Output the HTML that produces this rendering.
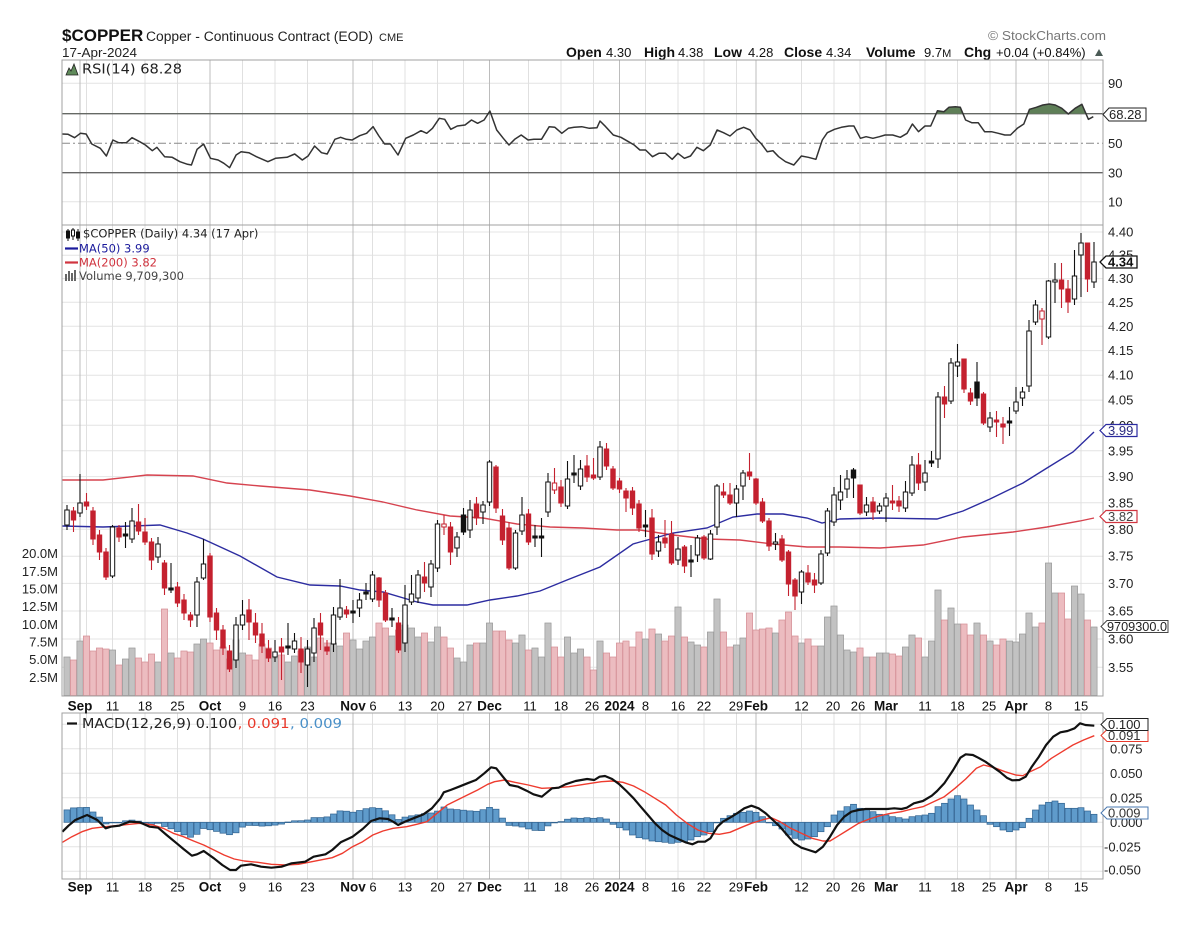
<!DOCTYPE html>
<html><head><meta charset="utf-8"><title>$COPPER</title>
<style>
html,body{margin:0;padding:0;background:#fff;width:1196px;height:934px;overflow:hidden}
svg{display:block}
.t{font-family:"Liberation Sans",Arial,sans-serif}
.d{font-family:"DejaVu Sans",Verdana,sans-serif}
</style></head><body>
<svg id="c" xmlns="http://www.w3.org/2000/svg" width="1196" height="934" viewBox="0 0 1196 934">
<rect width="1196" height="934" fill="#fff"/>
<defs>
<clipPath id="cpR"><rect x="62" y="60" width="1041" height="53.7"/></clipPath>
<clipPath id="cpM"><rect x="62" y="225" width="1041" height="471"/></clipPath>
<clipPath id="cpD"><rect x="62" y="713" width="1041" height="166"/></clipPath>
</defs>

<!-- header -->
<text class="t" x="62" y="41" font-size="17" font-weight="bold" fill="#111">$COPPER</text>
<text class="t" x="146" y="41" font-size="13.5" fill="#222" textLength="227" lengthAdjust="spacingAndGlyphs">Copper - Continuous Contract (EOD)</text>
<text class="t" x="379" y="41" font-size="11" fill="#222">CME</text>
<text class="t" x="62" y="57" font-size="13" fill="#222" textLength="75" lengthAdjust="spacingAndGlyphs">17-Apr-2024</text>
<text class="t" x="988" y="40" font-size="13" fill="#777" textLength="118" lengthAdjust="spacingAndGlyphs">© StockCharts.com</text>
<g class="t" fill="#111">
<text x="566" y="57" font-size="14" font-weight="bold">Open</text><text x="606" y="57" font-size="13">4.30</text>
<text x="644" y="57" font-size="14" font-weight="bold">High</text><text x="678" y="57" font-size="13">4.38</text>
<text x="714" y="57" font-size="14" font-weight="bold">Low</text><text x="748" y="57" font-size="13">4.28</text>
<text x="784" y="57" font-size="14" font-weight="bold">Close</text><text x="826" y="57" font-size="13">4.34</text>
<text x="866" y="57" font-size="14" font-weight="bold">Volume</text><text x="924" y="57" font-size="13">9.7<tspan font-size="11">M</tspan></text>
<text x="964" y="57" font-size="14" font-weight="bold">Chg</text><text x="996" y="57" font-size="13">+0.04 (+0.84%)</text>
</g>
<polygon points="1095,56 1103,56 1099,49" fill="#4a5a55"/>

<!-- static horizontal grid -->
<g stroke="#e4e4e4" stroke-width="1">
<line x1="62" x2="1103" y1="83.3" y2="83.3"/><line x1="62" x2="1103" y1="201.7" y2="201.7"/>
<line x1="62" x2="1103" y1="232" y2="232"/><line x1="62" x2="1103" y1="255.2" y2="255.2"/>
<line x1="62" x2="1103" y1="278.6" y2="278.6"/><line x1="62" x2="1103" y1="302.3" y2="302.3"/>
<line x1="62" x2="1103" y1="326.3" y2="326.3"/><line x1="62" x2="1103" y1="350.6" y2="350.6"/>
<line x1="62" x2="1103" y1="375.2" y2="375.2"/><line x1="62" x2="1103" y1="400.1" y2="400.1"/>
<line x1="62" x2="1103" y1="425.3" y2="425.3"/><line x1="62" x2="1103" y1="450.8" y2="450.8"/>
<line x1="62" x2="1103" y1="476.6" y2="476.6"/><line x1="62" x2="1103" y1="502.8" y2="502.8"/>
<line x1="62" x2="1103" y1="529.3" y2="529.3"/><line x1="62" x2="1103" y1="556.2" y2="556.2"/>
<line x1="62" x2="1103" y1="583.4" y2="583.4"/><line x1="62" x2="1103" y1="611" y2="611"/>
<line x1="62" x2="1103" y1="639" y2="639"/><line x1="62" x2="1103" y1="667.3" y2="667.3"/>
<line x1="62" x2="1103" y1="724.3" y2="724.3"/><line x1="62" x2="1103" y1="748.8" y2="748.8"/>
<line x1="62" x2="1103" y1="773.3" y2="773.3"/><line x1="62" x2="1103" y1="797.8" y2="797.8"/>
<line x1="62" x2="1103" y1="822.3" y2="822.3"/><line x1="62" x2="1103" y1="846.8" y2="846.8"/>
<line x1="62" x2="1103" y1="871.3" y2="871.3"/>
</g>
<g id="gGrid"></g>

<!-- RSI reference lines -->
<line x1="62" x2="1103" y1="113.7" y2="113.7" stroke="#666" stroke-width="1.3"/>
<line x1="62" x2="1103" y1="172.7" y2="172.7" stroke="#666" stroke-width="1.3"/>
<line x1="62" x2="1103" y1="143.3" y2="143.3" stroke="#888" stroke-width="1" stroke-dasharray="8,3,2,3"/>
<g id="gRsi"></g>

<g id="gVol" clip-path="url(#cpM)"></g>
<g id="gMA" clip-path="url(#cpM)"></g>
<g id="gCan" clip-path="url(#cpM)"></g>
<g id="gMacd" clip-path="url(#cpD)"></g>

<!-- frames -->
<g fill="none" stroke="#a0a0a0" stroke-width="1">
<rect x="62" y="60" width="1041" height="165"/>
<rect x="62" y="225" width="1041" height="471"/>
<rect x="62" y="713" width="1041" height="166"/>
</g>

<!-- legends -->
<path d="M66,75 L69,68 L71,71 L74,64 L78,75 Z" fill="#5f8a5a" stroke="#222" stroke-width="0.8"/>
<text class="d" x="82" y="73.5" font-size="13" fill="#222" textLength="100" lengthAdjust="spacingAndGlyphs">RSI(14) 68.28</text>

<g stroke="#111" stroke-width="1">
<line x1="68" x2="68" y1="229" y2="241"/><rect x="66.5" y="231" width="3" height="7" fill="#111"/>
<line x1="73" x2="73" y1="228" y2="240"/><rect x="71.5" y="230" width="3" height="6" fill="#fff"/>
<line x1="78" x2="78" y1="229" y2="241"/><rect x="76.5" y="232" width="3" height="6" fill="#111"/>
</g>
<text class="d" x="83" y="237.5" font-size="11.5" fill="#222">$COPPER (Daily) 4.34 (17 Apr)</text>
<line x1="65" x2="78" y1="248.5" y2="248.5" stroke="#1a1a9c" stroke-width="2.2"/>
<text class="d" x="79" y="252.5" font-size="11.5" fill="#1a1a9c">MA(50) 3.99</text>
<line x1="65" x2="78" y1="262.5" y2="262.5" stroke="#d0343f" stroke-width="2.2"/>
<text class="d" x="79" y="266.5" font-size="11.5" fill="#d0343f">MA(200) 3.82</text>
<g fill="#666"><rect x="65" y="274" width="2" height="7"/><rect x="68" y="271" width="2" height="10"/><rect x="71" y="273" width="2" height="8"/><rect x="74" y="270" width="2" height="11"/></g>
<text class="d" x="79" y="280" font-size="11.5" fill="#444">Volume 9,709,300</text>

<line x1="67" x2="77" y1="723.5" y2="723.5" stroke="#111" stroke-width="2.2"/>
<text class="d" x="82" y="728" font-size="13" fill="#222" textLength="155" lengthAdjust="spacingAndGlyphs">MACD(12,26,9) 0.100</text>
<text class="d" x="237.6" y="728" font-size="13" fill="#e8392b" textLength="52" lengthAdjust="spacingAndGlyphs">, 0.091</text>
<text class="d" x="290" y="728" font-size="13" fill="#4a90c8" textLength="52" lengthAdjust="spacingAndGlyphs">, 0.009</text>

<!-- right axis: RSI -->
<g class="t" font-size="13" fill="#222">
<text x="1108" y="88">90</text><text x="1108" y="148">50</text><text x="1108" y="177.5">30</text><text x="1108" y="206.5">10</text>
</g>
<!-- right axis: price -->
<g class="t" font-size="13" fill="#222">
<text x="1108" y="236.5">4.40</text><text x="1108" y="259.7">4.35</text><text x="1108" y="283.1">4.30</text>
<text x="1108" y="306.8">4.25</text><text x="1108" y="330.8">4.20</text><text x="1108" y="355.1">4.15</text>
<text x="1108" y="379.7">4.10</text><text x="1108" y="404.6">4.05</text><text x="1108" y="429.8">4.00</text>
<text x="1108" y="455.3">3.95</text><text x="1108" y="481.1">3.90</text><text x="1108" y="507.3">3.85</text>
<text x="1108" y="533.8">3.80</text><text x="1108" y="560.7">3.75</text><text x="1108" y="587.9">3.70</text>
<text x="1108" y="615.5">3.65</text><text x="1108" y="643.5">3.60</text><text x="1108" y="671.8">3.55</text>
</g>
<!-- left axis: volume -->
<g class="t" font-size="13" fill="#222" text-anchor="end">
<text x="58" y="558">20.0M</text><text x="58" y="575.8">17.5M</text><text x="58" y="593.5">15.0M</text>
<text x="58" y="611.1">12.5M</text><text x="58" y="628.8">10.0M</text><text x="58" y="646.5">7.5M</text>
<text x="58" y="664.2">5.0M</text><text x="58" y="681.8">2.5M</text>
</g>
<!-- right axis: MACD -->
<g class="t" font-size="13" fill="#222">
<text x="1110" y="728.8">0.100</text><text x="1110" y="753.3">0.075</text><text x="1110" y="777.8">0.050</text>
<text x="1110" y="802.3">0.025</text><text x="1110" y="826.8">0.000</text><text x="1104" y="851.3">-0.025</text>
<text x="1104" y="874.5">-0.050</text>
</g>

<!-- date axes -->
<g class="t" fill="#111" text-anchor="middle">
<g font-size="13.5" font-weight="bold">
<text x="80" y="710.5">Sep</text><text x="210" y="710.5">Oct</text><text x="353" y="710.5">Nov</text><text x="489.5" y="710.5">Dec</text>
<text x="619.5" y="710.5">2024</text><text x="756" y="710.5">Feb</text><text x="886" y="710.5">Mar</text><text x="1016" y="710.5">Apr</text>
<text x="80" y="891.5">Sep</text><text x="210" y="891.5">Oct</text><text x="353" y="891.5">Nov</text><text x="489.5" y="891.5">Dec</text>
<text x="619.5" y="891.5">2024</text><text x="756" y="891.5">Feb</text><text x="886" y="891.5">Mar</text><text x="1016" y="891.5">Apr</text>
</g>
<g font-size="13">
<text x="112.5" y="710.5">11</text><text x="145" y="710.5">18</text><text x="177.5" y="710.5">25</text>
<text x="242.5" y="710.5">9</text><text x="275" y="710.5">16</text><text x="307.5" y="710.5">23</text>
<text x="373" y="710.5">6</text><text x="405" y="710.5">13</text><text x="437.5" y="710.5">20</text><text x="465" y="710.5">27</text>
<text x="530" y="710.5">11</text><text x="561" y="710.5">18</text><text x="592" y="710.5">26</text>
<text x="645.5" y="710.5">8</text><text x="678" y="710.5">16</text><text x="704" y="710.5">22</text><text x="736" y="710.5">29</text>
<text x="801.5" y="710.5">12</text><text x="833" y="710.5">20</text><text x="858" y="710.5">26</text>
<text x="925" y="710.5">11</text><text x="957.5" y="710.5">18</text><text x="989" y="710.5">25</text>
<text x="1048.5" y="710.5">8</text><text x="1081" y="710.5">15</text>
<text x="112.5" y="891.5">11</text><text x="145" y="891.5">18</text><text x="177.5" y="891.5">25</text>
<text x="242.5" y="891.5">9</text><text x="275" y="891.5">16</text><text x="307.5" y="891.5">23</text>
<text x="373" y="891.5">6</text><text x="405" y="891.5">13</text><text x="437.5" y="891.5">20</text><text x="465" y="891.5">27</text>
<text x="530" y="891.5">11</text><text x="561" y="891.5">18</text><text x="592" y="891.5">26</text>
<text x="645.5" y="891.5">8</text><text x="678" y="891.5">16</text><text x="704" y="891.5">22</text><text x="736" y="891.5">29</text>
<text x="801.5" y="891.5">12</text><text x="833" y="891.5">20</text><text x="858" y="891.5">26</text>
<text x="925" y="891.5">11</text><text x="957.5" y="891.5">18</text><text x="989" y="891.5">25</text>
<text x="1048.5" y="891.5">8</text><text x="1081" y="891.5">15</text>
</g>
</g>

<!-- value tags -->
<g class="t" font-size="13">
<path d="M1103,114.5 L1109,108 L1146,108 L1146,121 L1109,121 Z" fill="#fff" stroke="#222"/>
<text x="1109" y="119.2" fill="#222">68.28</text>
<path d="M1100,262 L1106,256 L1137,256 L1137,268 L1106,268 Z" fill="#fff" stroke="#111" stroke-width="1.3"/>
<text x="1108" y="266.6" fill="#111" font-weight="bold">4.34</text>
<path d="M1100,430.5 L1106,424.5 L1137,424.5 L1137,436.5 L1106,436.5 Z" fill="#fff" stroke="#2a2aa0" stroke-width="1.2"/>
<text x="1108" y="435.2" fill="#2a2a80">3.99</text>
<path d="M1100,516.5 L1106,510.5 L1137,510.5 L1137,522.5 L1106,522.5 Z" fill="#fff" stroke="#d0343f" stroke-width="1.2"/>
<text x="1108" y="521.2" fill="#444">3.82</text>
<path d="M1101,626.5 L1107,620.5 L1168,620.5 L1168,632.5 L1107,632.5 Z" fill="#fff" stroke="#444" stroke-width="1"/>
<text x="1107" y="631.2" fill="#222" textLength="60" lengthAdjust="spacingAndGlyphs">9709300.0</text>
<path d="M1101,735.5 L1107,729.5 L1148,729.5 L1148,741.5 L1107,741.5 Z" fill="#fff" stroke="#e8392b" stroke-width="1"/>
<text x="1108" y="740.2" fill="#333">0.091</text>
<path d="M1101,724.5 L1107,718.5 L1148,718.5 L1148,730.5 L1107,730.5 Z" fill="#fff" stroke="#222" stroke-width="1"/>
<text x="1108" y="729.2" fill="#222">0.100</text>
<path d="M1101,813 L1107,807 L1148,807 L1148,819 L1107,819 Z" fill="#fff" stroke="#4a78b0" stroke-width="1"/>
<text x="1108" y="817.7" fill="#333">0.009</text>
</g>
</svg>
<script>
(function(){
var NS='http://www.w3.org/2000/svg';
function E(tag,a,p){var e=document.createElementNS(NS,tag);for(var k in a)e.setAttribute(k,a[k]);p.appendChild(e);return e;}
function G(id){return document.getElementById(id);}
function X(i){return 67+6.5*i;}
function pts(a){return a.map(function(p){return p[0].toFixed(1)+','+p[1].toFixed(1);}).join(' ');}
function interp(a,x){if(x<=a[0][0])return a[0][1];for(var i=1;i<a.length;i++){if(x<=a[i][0]){var p=a[i-1],q=a[i];return p[1]+(q[1]-p[1])*(x-p[0])/(q[0]-p[0]);}}return a[a.length-1][1];}

/* vertical grid */
var gg=G('gGrid');
var weeks=[3,7,12,17,27,32,37,47,52,57,61,71,76,81,89,94,98,103,113,118,122,132,137,142,151,156];
var months=[2,22,44,65,85,106,126,146];
function vline(i,col){var x=X(i);E('line',{x1:x,x2:x,y1:60,y2:696,stroke:col,'stroke-width':1},gg);E('line',{x1:x,x2:x,y1:713,y2:879,stroke:col,'stroke-width':1},gg);}
weeks.forEach(function(i){vline(i,'#e0e0e0');});
months.forEach(function(i){vline(i,'#bcbcbc');});

/* RSI */
var r1=[[162,342],[178,343],[195,353],[210,340],[225,342],[240,372],[262,385],[278,408],[295,360],[310,368],[330,368],[345,353],[365,365],[380,375],[398,392],[410,382],[430,410],[450,412],[470,425],[490,433],[500,435],[515,388],[532,372],[550,415],[570,420],[585,430],[600,443],[617,405],[630,395],[650,398],[670,410],[700,425],[720,415],[750,412],[770,402],[790,420],[805,408],[822,378],[840,398],[855,402],[875,358],[890,352],[905,358],[920,360],[940,347],[958,340],[975,320],[990,348],[1005,372],[1020,372],[1040,405],[1060,355],[1080,345],[1100,332],[1115,340],[1130,325],[1148,295],[1162,298],[1178,328],[1195,318],[1215,315],[1232,300],[1248,310],[1265,300],[1280,273],[1298,330],[1315,355],[1330,375],[1345,358],[1362,345],[1380,360],[1395,358],[1415,358],[1435,320],[1450,322],[1468,340],[1485,325],[1500,322],[1520,320],[1540,325],[1560,323]];
var r2=[[0,303],[15,320],[35,345],[55,352],[75,365],[90,375],[105,390],[120,390],[138,410],[155,400],[172,400],[190,418],[205,400],[222,415],[238,408],[255,382],[272,392],[290,375],[308,330],[325,338],[342,348],[360,330],[378,322],[395,330],[410,355],[425,372],[440,395],[455,392],[470,410],[488,425],[510,435],[530,408],[548,412],[568,418],[585,360],[598,338],[617,328],[635,322],[655,318],[668,318],[685,355],[700,350],[718,355],[735,350],[750,345],[770,345],[790,352],[808,340],[822,312],[838,335],[855,318],[870,318],[888,272],[905,275],[918,262],[935,260],[948,262],[962,300],[978,308],[995,308],[1012,335],[1030,335],[1048,340],[1065,345],[1080,345],[1098,325],[1115,312],[1130,268],[1148,262],[1165,255],[1182,252],[1198,255],[1215,265],[1232,282],[1250,265],[1268,253],[1285,298],[1298,290]];
var rsi=[];
r1.forEach(function(p){rsi.push([Math.max(62,p[0]/2.613),20+p[1]/3]);});
r2.forEach(function(p){rsi.push([600+p[0]/2.631,20+p[1]/3]);});
var gr=G('gRsi');
var poly=rsi.slice();poly.push([rsi[rsi.length-1][0],113.7]);poly.push([rsi[0][0],113.7]);
E('polygon',{points:pts(poly),fill:'#5f7f58','clip-path':'url(#cpR)'},gr);
E('polyline',{points:pts(rsi),fill:'none',stroke:'#333','stroke-width':1.5,'stroke-linejoin':'round'},gr);

/* candles */
var C=[
['H',510,525,505,530],['R',511,520,507,532],['H',503,513,474,517],['R',502,506,493,510],['R',511,539,507,545],['R',535,552,530,560],['R',552,577,548,580],['H',527,576,525,578],['R',528,537,525,542],['B',534,536,522,548],
['H',521,539,508,543],['R',522,531,504,535],['R',532,542,518,545],['R',542,560,538,570],['H',544,557,537,563],['R',563,588,560,595],['B',588,590,563,593],['R',587,603,582,607],['R',600,613,594,620],['R',615,620,612,627],
['H',582,615,577,627],['H',564,578,539,580],['R',556,617,553,622],['R',613,630,608,640],['R',630,648,625,655],['R',651,669,645,672],['H',625,660,617,668],['H',615,625,600,630],['R',610,622,599,640],['R',623,635,613,643],
['R',634,646,623,653],['R',649,658,640,662],['H',652,657,640,662],['R',647,652,638,680],['B',646,648,623,655],['H',641,649,633,653],['R',649,662,637,673],['H',649,665,640,687],['H',628,653,618,662],['R',623,635,613,650],
['R',647,651,640,655],['H',615,644,607,652],['H',608,617,579,620],['R',610,614,606,618],['B',611,613,600,623],['H',600,608,593,617],['B',592,594,583,600],['H',575,599,571,602],['R',578,600,577,607],['R',593,620,590,622],
['B',618,620,608,627],['R',623,650,617,653],['H',605,643,585,652],['H',594,602,575,605],['H',575,598,570,603],['R',577,583,562,592],['H',564,587,560,597],['H',524,568,520,572],['RH',524,527,515,535],['R',527,552,522,565],
['H',537,548,532,557],['B',515,532,508,535],['H',510,530,500,538],['R',504,518,497,525],['H',505,512,501,524],['H',462,502,460,506],['R',467,508,465,513],['R',516,540,509,545],['R',528,568,522,570],['H',533,568,530,570],
['H',515,531,497,535],['R',514,542,509,545],['B',536,538,525,547],['B',536,538,518,557],['H',482,512,473,517],['RH',483,490,468,494],['R',487,503,480,507],['H',479,506,461,509],['B',473,475,455,483],['H',469,486,460,490],
['R',466,477,455,482],['R',475,478,458,480],['H',447,477,441,480],['R',449,466,443,470],['R',469,488,466,490],['R',481,489,478,493],['R',491,498,488,512],['R',491,508,487,515],['R',504,528,500,532],['B',525,527,510,537],
['R',518,554,509,560],['H',542,551,535,557],['R',538,543,520,548],['R',534,563,521,565],['H',549,560,537,565],['R',547,566,545,573],['B',560,562,545,577],['H',538,555,535,562],['R',537,558,535,560],['H',534,559,530,560],
['H',486,527,484,535],['R',492,495,483,498],['R',495,503,483,505],['H',489,503,485,517],['H',473,486,470,500],['R',472,476,453,480],['R',479,503,478,505],['R',502,521,498,523],['R',521,546,518,551],['H',542,544,533,550],
['R',539,560,535,562],['R',552,584,550,596],['R',580,596,578,610],['H',572,592,570,604],['R',573,582,565,585],['R',580,585,573,593],['H',554,583,550,585],['H',511,553,508,556],['H',495,522,487,526],['H',492,500,475,510],
['H',479,489,470,498],['B',470,478,468,498],['R',485,513,485,515],['H',505,512,497,516],['R',502,512,497,520],['H',506,511,503,514],['H',498,506,493,522],['R',501,503,485,510],['R',501,506,496,512],['H',492,508,481,512],
['H',465,493,456,496],['R',465,483,453,490],['H',473,482,460,491],['B',461,463,451,467],['H',397,459,392,468],['R',397,404,386,418],['H',363,401,358,404],['H',362,366,344,377],['R',359,389,359,393],['R',393,401,388,405],
['B',382,398,362,406],['R',394,423,392,425],['H',418,427,412,432],['R',420,422,411,437],['R',424,427,417,444],['B',421,423,407,436],['H',402,411,387,414],['H',392,398,387,406],['H',331,386,320,392],['H',305,322,300,325],
['RH',311,319,308,345],['H',281,337,280,339],['H',280,282,263,303],['R',280,289,263,308],['R',289,302,280,313],['H',276,299,250,305],['H',243,255,233,297],['R',243,279,243,292],['H',262,282,242,288]
];
var V=[657,660,641,636,651,648,649,650,665,659,648,658,662,654,662,609,653,658,651,652,644,639,643,650,647,659,640,653,655,660,644,648,658,655,662,656,651,647,657,638,643,643,646,633,640,649,641,637,623,628,636,630,625,628,637,633,642,627,637,648,658,662,645,643,643,623,631,631,640,643,635,650,648,657,623,647,657,637,653,649,657,670,641,653,657,643,641,647,632,639,629,634,641,636,607,637,642,645,647,632,599,632,647,645,638,613,630,629,628,633,620,612,636,643,639,646,646,617,606,635,650,652,648,657,657,653,653,654,656,647,635,638,657,641,590,620,608,624,624,635,623,635,641,645,639,641,642,634,613,627,623,563,593,593,619,586,594,620,627];
var RED='#c4212f';
var gv=G('gVol'),gc=G('gCan');
for(var i=0;i<C.length;i++){
  var c=C[i],x=X(i),red=(c[0]==='R'||c[0]==='RH');
  var vt=V[i];
  E('rect',{x:(x-3.1).toFixed(2),y:vt,width:6.2,height:(695.5-vt).toFixed(1),fill:red?'#ecbcc0':'#c2c2c2',stroke:red?'#d38d94':'#989898','stroke-width':0.7},gv);
  var col=red?RED:'#111';
  E('line',{x1:x,x2:x,y1:c[3],y2:c[4],stroke:col,'stroke-width':1.1},gc);
  var h=Math.max(c[2]-c[1],1.6);
  var fill=(c[0]==='H'||c[0]==='RH')?'#fff':col;
  E('rect',{x:(x-2.2).toFixed(2),y:c[1],width:4.4,height:h,fill:fill,stroke:col,'stroke-width':1},gc);
}

/* moving averages */
var gm=G('gMA');
var ma200=[[62,480],[103,480],[147,475],[193,476],[227,483],[260,486],[310,490],[350,496],[383,502],[417,510],[450,516],[483,518],[517,524],[550,527],[583,528],[617,530],[640,530],[673,535],[707,539],[740,540],[773,544],[807,547],[840,547],[880,548],[923,545],[963,537],[1013,532],[1047,527],[1080,521],[1094,518]];
var ma50=[[62,526],[103,527],[160,525],[187,533],[203,539],[240,556],[277,577],[310,585],[340,586],[360,590],[383,592],[417,602],[433,605],[467,605],[490,600],[517,596],[540,591],[567,580],[600,567],[633,544],[640,542],[673,533],[707,528],[733,517],[757,514],[783,514],[807,518],[822,523],[840,519],[880,518],[937,519],[963,511],[990,499],[1023,483],[1047,468],[1073,452],[1094,432]];
E('polyline',{points:pts(ma200),fill:'none',stroke:'#d6434f','stroke-width':1.4},gm);
E('polyline',{points:pts(ma50),fill:'none',stroke:'#2c2ca0','stroke-width':1.4},gm);

/* MACD */
var m1=[[22,380],[40,362],[60,345],[95,330],[125,345],[150,370],[165,365],[190,362],[220,350],[250,352],[280,365],[305,368],[330,390],[360,415],[380,432],[405,452],[420,448],[440,438],[470,460],[495,480],[518,495],[535,495],[550,482],[580,478],[610,485],[640,488],[670,485],[700,475],[740,470],[765,455],[800,448],[820,435],[845,412],[880,395],[910,372],[935,348],[960,340],[985,342],[1000,350],[1015,360],[1035,350],[1060,340],[1090,328],[1115,310],[1140,280],[1150,262],[1170,255],[1195,245],[1220,235],[1245,225],[1270,205],[1290,187],[1305,190],[1325,215],[1345,240],[1370,245],[1395,257],[1415,268],[1440,275],[1470,250],[1490,248],[1510,238],[1540,228],[1568,220]];
var s1=[[22,412],[50,395],[80,380],[110,370],[150,365],[200,360],[250,355],[290,360],[320,370],[350,385],[380,395],[410,408],[440,420],[470,435],[500,450],[530,462],[560,468],[600,472],[640,478],[680,480],[720,478],[760,470],[820,458],[850,445],[880,425],[910,410],[940,390],[970,378],[1000,370],[1040,365],[1070,358],[1100,350],[1130,325],[1160,300],[1190,285],[1220,270],[1250,255],[1280,238],[1300,230],[1330,225],[1360,232],[1400,240],[1440,250],[1480,248],[1520,245],[1568,238]];
var m2=[[0,228],[20,222],[40,225],[55,215],[70,213],[90,222],[110,238],[130,258],[150,280],[170,305],[190,330],[210,355],[230,375],[250,390],[270,400],[295,412],[315,418],[330,410],[350,410],[365,400],[385,365],[400,350],[420,338],[440,325],[460,310],[480,302],[500,310],[520,325],[540,345],[560,365],[580,390],[600,415],[620,428],[640,435],[660,442],[680,425],[700,395],[720,360],[740,335],[760,320],[780,315],[800,312],[830,312],[860,312],[880,310],[900,312],[915,308],[935,295],[960,288],[985,272],[1000,258],[1020,235],[1045,195],[1065,158],[1080,148],[1100,150],[1115,158],[1135,170],[1155,185],[1175,200],[1195,218],[1210,226],[1230,225],[1248,215],[1265,185],[1285,155],[1305,120],[1325,95],[1345,82],[1365,78],[1385,70],[1400,55],[1415,60],[1440,62]];
var s2=[[0,240],[30,235],[60,230],[90,228],[120,232],[150,243],[180,260],[210,280],[240,300],[270,330],[300,355],[330,375],[360,385],[390,388],[420,382],[450,368],[480,355],[510,345],[535,338],[560,350],[590,370],[620,385],[650,400],[680,408],[700,408],[720,395],[750,375],[780,355],[810,342],[840,332],[870,325],[900,320],[930,312],[960,305],[990,290],[1020,275],[1050,250],[1080,222],[1110,190],[1130,180],[1160,188],[1190,200],[1220,210],[1240,212],[1260,200],[1290,185],[1320,160],[1350,140],[1380,120],[1410,105],[1440,92]];
function conv(a,x0,sx){return a.map(function(p){return [x0+p[0]/sx,705+p[1]/3];});}
var M1=conv(m1,55,2.958),S1=conv(s1,55,2.958),M2=conv(m2,580,2.8),S2=conv(s2,580,2.8);
var MAC=M1.filter(function(p){return p[0]<582;}).concat(M2.filter(function(p){return p[0]>=582;}));
var SIG=S1.filter(function(p){return p[0]<582;}).concat(S2.filter(function(p){return p[0]>=582;}));
var HZ=[340,338,340,338,342,358,368,375,390,398,402,408,410,412,415,412,410,405,395,390,380,352,340,332,325,322,318,322,335,352,362,372,390,400,405,402,395,380,365,330,318,305,298,310,312,320,328,330,335,338,342,335,332,330,325,305,295,282,272,282,300,315,332,358,365,375,380,375,368,340,315,300,292,288,295,310,310,308,318,328];
var gd=G('gMacd'),Z=822.3;
for(var j=0;j<159;j++){
  var xx=X(j),top;
  if(j<79){top=Z-(interp(SIG,xx)-interp(MAC,xx));}
  else{top=705+HZ[j-79]/3;}
  var y0=Math.min(top,Z),hh=Math.abs(top-Z);
  if(hh<0.6)hh=0.6;
  E('rect',{x:(xx-3).toFixed(2),y:y0.toFixed(1),width:6,height:hh.toFixed(1),fill:'#5f9bcb',stroke:'#2f628f','stroke-width':0.7},gd);
}
E('polyline',{points:pts(SIG),fill:'none',stroke:'#ee3b2e','stroke-width':1.4,'stroke-linejoin':'round'},gd);
E('polyline',{points:pts(MAC),fill:'none',stroke:'#111','stroke-width':2.2,'stroke-linejoin':'round'},gd);
})();
</script>
</body></html>
